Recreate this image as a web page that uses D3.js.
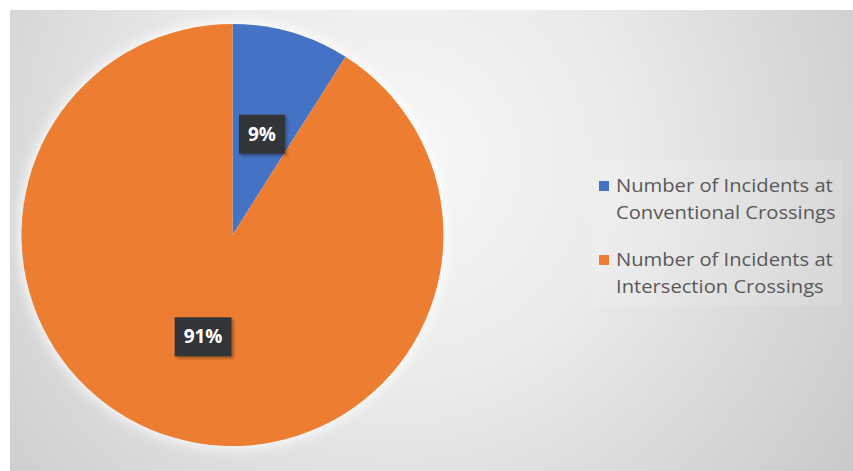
<!DOCTYPE html>
<html>
<head>
<meta charset="utf-8">
<script src="https://cdn.jsdelivr.net/npm/d3@7"></script>
<style>
  html, body { margin: 0; padding: 0; background: #ffffff; }
  svg { display: block; }
</style>
</head>
<body>
<svg id="chart" width="853" height="471"></svg>
<script>
const categories = ["Number of Incidents at Conventional Crossings", "Number of Incidents at Intersection Crossings"];
const legendLines = [["Number of Incidents at", "Conventional Crossings"], ["Number of Incidents at", "Intersection Crossings"]];
const values = [9, 91];
const labels = ["9%", "91%"];
const colors = ["#4472c4", "#ed7d31"];

const svg = d3.select("#chart");
const W = 853, H = 471;
const defs = svg.append("defs");

const bg = defs.append("radialGradient").attr("id", "bg")
  .attr("gradientUnits", "userSpaceOnUse")
  .attr("cx", 400).attr("cy", 160).attr("r", 560);
bg.append("stop").attr("offset", "0%").attr("stop-color", "#f8f8f8");
bg.append("stop").attr("offset", "40%").attr("stop-color", "#ebebeb");
bg.append("stop").attr("offset", "100%").attr("stop-color", "#c8c8c8");

const glow = defs.append("filter").attr("id", "glow").attr("x", "-20%").attr("y", "-20%").attr("width", "140%").attr("height", "140%");
glow.append("feGaussianBlur").attr("stdDeviation", 6);

const shadow = defs.append("filter").attr("id", "shadow").attr("x", "-30%").attr("y", "-30%").attr("width", "160%").attr("height", "160%");
shadow.append("feDropShadow").attr("dx", 2).attr("dy", 2).attr("stdDeviation", 1.5).attr("flood-color", "#000").attr("flood-opacity", 0.35);

svg.append("rect").attr("x", 10).attr("y", 10).attr("width", W - 10).attr("height", H - 10).attr("fill", "url(#bg)");

// legend light panel
svg.append("rect").attr("x", 590).attr("y", 160).attr("width", 252).attr("height", 146)
  .attr("fill", "#ffffff").attr("opacity", 0.12);

const cx = 232.5, cy = 235, r = 211;
const g = svg.append("g").attr("transform", `translate(${cx},${cy})`);

g.append("circle").attr("r", r + 3).attr("fill", "#ffffff").attr("opacity", 0.8).attr("filter", "url(#glow)");

const pie = d3.pie().sort(null).value(d => d)(values);
const arc = d3.arc().innerRadius(0).outerRadius(r);

g.selectAll("path.slice").data(pie).join("path")
  .attr("class", "slice")
  .attr("d", arc)
  .attr("fill", (d, i) => colors[i]);

const lab = g.selectAll("g.lab").data(pie).join("g")
  .attr("class", "lab")
  .attr("transform", d => { const c = arc.centroid(d); return `translate(${c[0]},${c[1]})`; });

lab.each(function (d, i) {
  const sel = d3.select(this);
  const t = sel.append("text")
    .attr("text-anchor", "middle")
    .attr("dy", "0.36em")
    .attr("font-family", "'Open Sans', sans-serif")
    .attr("font-weight", "bold")
    .attr("font-size", 19)
    .attr("fill", "#ffffff")
    .text(labels[i]);
  const w = t.node().getComputedTextLength();
  sel.insert("rect", "text")
    .attr("x", -w / 2 - 9).attr("y", -19)
    .attr("width", w + 18).attr("height", 39)
    .attr("fill", "#333538")
    .attr("filter", "url(#shadow)");
});

const leg = svg.append("g");
const entryY = [192, 266];
const texts = [];
legendLines.forEach((lines, i) => {
  leg.append("rect").attr("x", 599).attr("y", entryY[i] - 11).attr("width", 10).attr("height", 10)
    .attr("fill", colors[i]);
  lines.forEach((ln, j) => {
    const t = leg.append("text")
      .attr("x", 0).attr("y", entryY[i] + j * 27)
      .attr("font-family", "'Open Sans', sans-serif")
      .attr("font-size", 17.5)
      .attr("fill", "#595959")
      .text(ln);
    texts.push(t);
  });
});
// horizontal stretch so the first line spans ~217px like the reference
const w0 = texts[0].node().getComputedTextLength();
const sx = 217 / w0;
texts.forEach(t => t.attr("transform", `translate(616,0) scale(${sx},1)`));
</script>
</body>
</html>
